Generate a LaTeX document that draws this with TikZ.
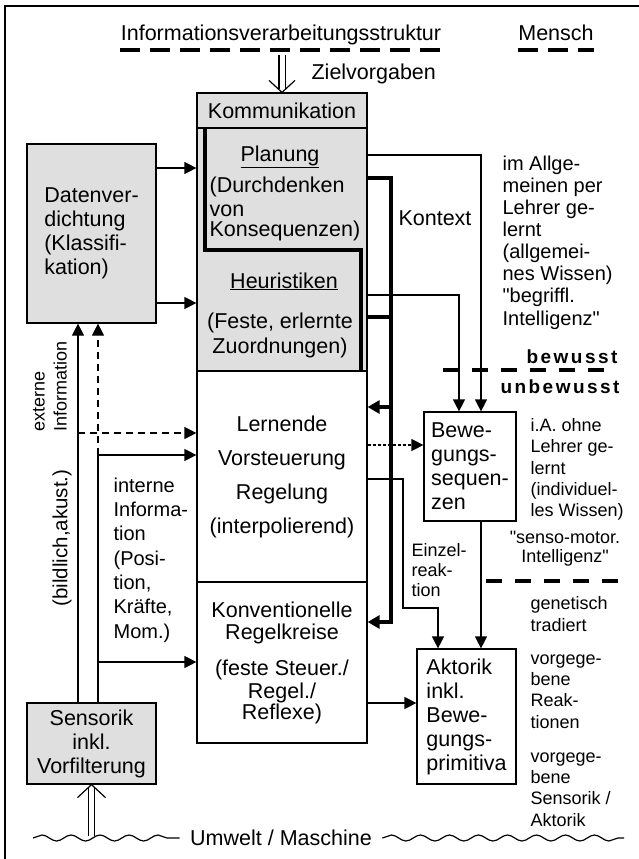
\documentclass[tikz,border=0pt]{standalone}
\usepackage{fontspec}
\setmainfont{Liberation Sans}[Ligatures=TeXOff]
\newfontfamily\spacedfont{Liberation Sans}[LetterSpace=13.0]
\usepackage{tikz}
\usetikzlibrary{arrows.meta,decorations.pathmorphing}
\definecolor{BoxGray}{HTML}{DFDFDF}

\begin{document}
\begin{tikzpicture}[x=1pt,y=-1pt,
  line width=1.2pt,
  box/.style={rectangle,draw,line width=1.2pt,inner sep=0pt,align=left,
              font=\fontsize{21.5}{24}\selectfont},
  graybox/.style={box,fill=BoxGray},
  txt/.style={inner sep=0pt,align=left,font=\fontsize{21.5}{24}\selectfont},
  note/.style={inner sep=0pt,align=left,font=\fontsize{20}{22.1}\selectfont},
  small/.style={inner sep=0pt,align=left,font=\fontsize{18}{21.3}\selectfont},
  arrow/.style={-{Triangle[length=12pt,width=12pt]},line width=1.2pt},
  thickarrow/.style={-{Triangle[length=12pt,width=13pt]},line width=3.5pt},
  kontext/.style={line width=3.5pt},
  dasharrow/.style={arrow,dash pattern=on 7pt off 5pt},
  dotarrow/.style={arrow,dash pattern=on 3pt off 2pt},
  border/.style={line width=3.5pt,dash pattern=on 16pt off 13pt},
  headline/.style={line width=3.5pt,dash pattern=on 20pt off 10pt},
  dbl/.style={double,double distance=5pt,line width=1.2pt},
  vhead/.style={line width=1.2pt},
  wave/.style={decorate,decoration={snake,segment length=29pt,amplitude=3pt},line width=1.2pt}
]
\useasboundingbox (0,0) rectangle (639,859);
\draw (5,859) -- (5,6) -- (639,6);

%% Kopfzeile
\node[txt,anchor=base] (titel)  at (281,41) {Informationsverarbeitungsstruktur};
\node[txt,anchor=base] (mensch) at (556,41) {Mensch};
\draw[headline] (titel.south west |- 0,50) -- (titel.south east |- 0,50);
\draw[headline] (mensch.south west |- 0,50) -- (mensch.south east |- 0,50);
\coordinate (zstart) at (282,55);
\node[txt,anchor=base west] (ziel) at (311,79) {Zielvorgaben};

%% mittlere Saeule
\node[graybox,minimum width=170,minimum height=35] (komm) at (282,110.5) {Kommunikation};
\node[graybox,minimum width=170,minimum height=243] (kogn) at (282,249.5) {};
\node[box,align=center,minimum width=170,minimum height=211] (lernen) at (282,476.5)
  {Lernende\\[10pt]Vorsteuerung\\[10pt]Regelung\\[10pt](interpolierend)};
\node[box,align=center,minimum width=170,minimum height=161] (konv) at (282,662.5)
  {Konventionelle\\[-2pt]Regelkreise\\[12pt](feste Steuer./\\[-1pt]Regel./\\[-3pt]Reflexe)};

\node[txt,anchor=base] (plan)    at (280,161) {\underline{Planung}};
\node[txt,anchor=west] (plantxt) at (209,209) {(Durchdenken\\von\\[-4pt]Konsequenzen)};
\draw[kontext] (205,128) -- (205,250) -- (361,250) -- (361,371);
\node[txt,anchor=base] (heur)    at (284,288) {\underline{Heuristiken}};
\node[txt,align=center] (heurtxt) at (280,335) {(Feste, erlernte\\[1pt]Zuordnungen)};

%% Kontext
\node[txt] (kontextlbl) at (435,218) {Kontext};
\coordinate (ktop) at (391,178);
\coordinate (kbot) at (391,622);
\draw[thickarrow] (kogn.east |- ktop) -- (ktop) -- (kbot) -- (konv.east |- kbot);
\draw[kontext] (kogn.east |- 0,317) -- (ktop |- 0,317);
\draw[thickarrow] (ktop |- 0,407) -- (lernen.east |- 0,407);

%% rechte Seite
\node[box,minimum width=92,minimum height=109] (seq) at (470,466.5) {Bewe-\\gungs-\\sequen-\\zen};
\node[box,minimum width=99,minimum height=135] (akt) at (466.5,716.5) {Aktorik\\inkl.\\Bewe-\\gungs-\\primitiva};

\draw[arrow] (kogn.east |- 0,155) -| ([xshift=11pt]seq.north);
\draw[arrow] (kogn.east |- 0,295) -| ([xshift=-11pt]seq.north);
\draw[dotarrow] (lernen.east |- 0,445) -- (seq.west |- 0,445);
\draw[arrow] (lernen.east |- 0,479) -- (403,479) -- (403,608) -| ([xshift=-28.5pt]akt.north);
\draw[arrow] ([xshift=11pt]seq.south) -- ([xshift=14.5pt]akt.north);
\draw[arrow] (konv.east |- 0,703) -- (akt.west |- 0,703);

\coordinate (bwl) at (443,370);
\coordinate (bwr) at (608,370);
\draw[border] (bwl) -- (bwr);
\node[anchor=base,inner sep=0pt,font=\fontsize{19}{22}\spacedfont\bfseries] (bewusst) at (572,363) {bewusst};
\node[anchor=base,inner sep=0pt,font=\fontsize{19}{22}\spacedfont\bfseries] (unbewusst) at (560,393) {unbewusst};
\coordinate (gtl) at (486,581);
\coordinate (gtr) at (622,581);
\draw[border] (gtl) -- (gtr);

\node[note,anchor=west] (allg) at (502,242.5)
  {im Allge-\\meinen per\\Lehrer ge-\\lernt\\(allgemei-\\nes Wissen)\\"begriffl.\\Intelligenz"};
\node[small,anchor=west] (ohne) at (530,469.5) {i.A. ohne\\Lehrer ge-\\lernt\\(individuel-\\les Wissen)};
\node[small,align=center,font=\fontsize{18}{19}\selectfont] (senso) at (565,549) {"senso-motor.\\Intelligenz"};
\node[small,anchor=west] (genet) at (530,614) {genetisch\\[1pt]tradiert};
\node[small,anchor=west] (vreak) at (530,691.5) {vorgege-\\bene\\Reak-\\tionen};
\node[small,anchor=west] (vsens) at (530,789.5) {vorgege-\\bene\\Sensorik /\\Aktorik};
\node[small,anchor=west] (einzel) at (411,570) {Einzel-\\[-1pt]reak-\\[-1pt]tion};

%% linke Seite
\node[graybox,minimum width=129,minimum height=179] (datv) at (91.5,233.5)
  {Datenver-\\dichtung\\(Klassifi-\\kation)};
\node[graybox,align=center,minimum width=129,minimum height=81] (sens) at (91.5,743.5)
  {Sensorik\\inkl.\\Vorfilterung};
\draw[arrow] (datv.east |- 0,168) -- (kogn.west |- 0,168);
\draw[arrow] (datv.east |- 0,303) -- (kogn.west |- 0,303);

\coordinate (extab) at (78,433);
\coordinate (intab) at (98,455);
\draw[arrow] ([xshift=-13.5pt]sens.north) -- ([xshift=-13.5pt]datv.south);
\draw[dasharrow] (extab) -- (lernen.west |- extab);
\draw[dasharrow] (intab) -- ([xshift=6.5pt]datv.south);
\draw[arrow] ([xshift=6.5pt]sens.north) -- (intab) -- (lernen.west |- intab);
\draw[arrow] (intab |- 0,662) -- (konv.west |- 0,662);

\node[rotate=90,anchor=west,align=left,inner sep=0pt,font=\fontsize{18}{22}\selectfont] (extinf) at (50,432) {externe\\Information};
\node[rotate=90,inner sep=0pt,font=\fontsize{20.5}{24}\selectfont] (bildl) at (62,538) {(bildlich,akust.)};
\node[note,anchor=west,font=\fontsize{20}{24.3}\selectfont] (intinf) at (113,560)
  {interne\\Informa-\\tion\\(Posi-\\tion,\\Kr\"afte,\\Mom.)};

%% Umwelt
\node[txt] (umwelt) at (281,838) {Umwelt / Maschine};
\coordinate (wl) at (33,838);
\coordinate (wr) at (624,838);
\draw[wave] (wl) -- ([xshift=-10pt]umwelt.west);
\draw[wave] ([xshift=10pt]umwelt.east) -- (wr);

%% Doppelpfeile
\coordinate (sbot) at (91.5,836);
\draw[dbl] (sbot) -- ([yshift=-3pt]sens.south);
\draw[vhead] ([shift={(-14,13)}]sens.south) -- (sens.south) -- ([shift={(14,13)}]sens.south);
\draw[dbl] (zstart) -- ([yshift=3pt]komm.north);
\draw[vhead] ([shift={(-13,-12)}]komm.north) -- (komm.north) -- ([shift={(13,-12)}]komm.north);

\end{tikzpicture}
\end{document}
